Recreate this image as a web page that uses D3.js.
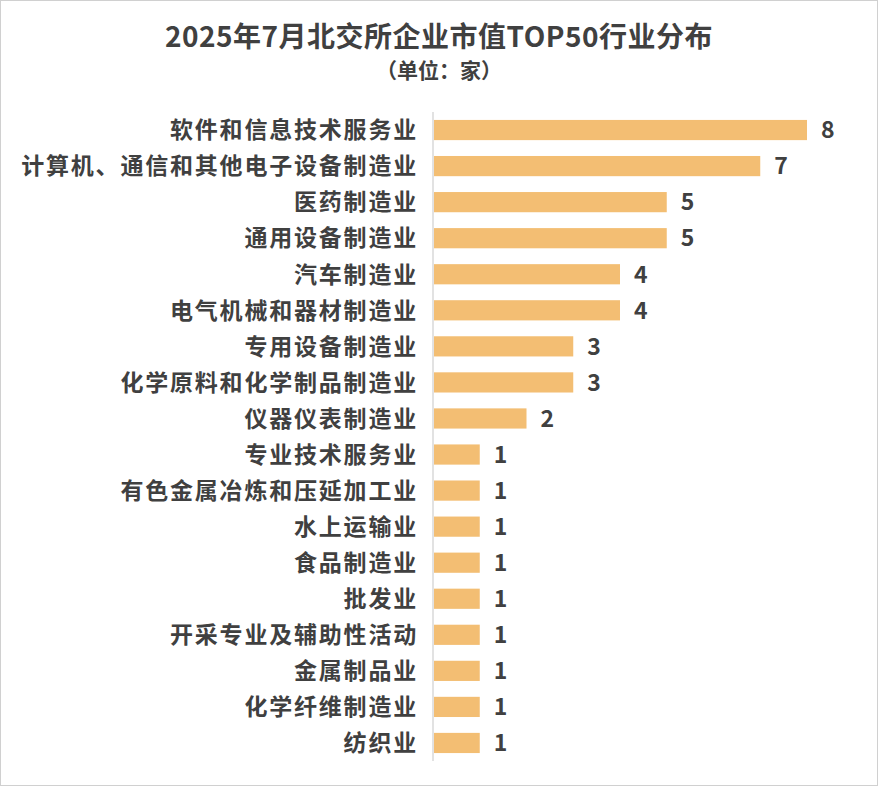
<!DOCTYPE html>
<html><head><meta charset="utf-8">
<script src="https://cdn.jsdelivr.net/npm/d3@7"></script>
<style>
body{margin:0;background:#fff;font-family:"Noto Sans CJK SC","Noto Sans",sans-serif;}
</style></head>
<body><div id="chart"></div>
<script>
const industries = ["软件和信息技术服务业","计算机、通信和其他电子设备制造业","医药制造业","通用设备制造业","汽车制造业","电气机械和器材制造业","专用设备制造业","化学原料和化学制品制造业","仪器仪表制造业","专业技术服务业","有色金属冶炼和压延加工业","水上运输业","食品制造业","批发业","开采专业及辅助性活动","金属制品业","化学纤维制造业","纺织业"];
const counts = [8,7,5,5,4,4,3,3,2,1,1,1,1,1,1,1,1,1];

const W = 878, H = 786;
const svg = d3.select("#chart").append("svg").attr("width", W).attr("height", H);
svg.append("rect").attr("x",0.5).attr("y",0.5).attr("width",W-1).attr("height",H-1)
  .attr("fill","#fff").attr("stroke","#d0d0d0");

const x = d3.scaleLinear().domain([0,8]).range([433,807]);
const y = d3.scaleBand().domain(industries).range([112,761]).paddingInner(0.44).paddingOuter(0.22);

svg.append("text").attr("x",439).attr("y",47).attr("text-anchor","middle")
  .attr("font-size",28).attr("font-weight","bold").attr("fill","#404040").attr("letter-spacing",0.5)
  .text("2025年7月北交所企业市值TOP50行业分布");
svg.append("text").attr("x",439).attr("y",78).attr("text-anchor","middle")
  .attr("font-size",21).attr("font-weight","bold").attr("fill","#404040")
  .text("（单位：家）");

svg.append("line").attr("x1",433).attr("x2",433).attr("y1",112).attr("y2",761)
  .attr("stroke","#d9d9d9").attr("stroke-width",1.5);

svg.selectAll("rect.bar").data(industries).enter().append("rect").attr("class","bar")
  .attr("x", x(0)+1).attr("y", d => y(d))
  .attr("width", (d,i) => x(counts[i]) - x(0) - 1).attr("height", y.bandwidth())
  .attr("fill","#F3BE73");

svg.selectAll("text.cat").data(industries).enter().append("text").attr("class","cat")
  .attr("x",418).attr("y", d => y(d) + y.bandwidth()/2).attr("dy","0.36em")
  .attr("text-anchor","end").attr("font-size",23).attr("letter-spacing",1.8)
  .attr("font-weight","bold").attr("fill","#404040")
  .text(d => d);

svg.selectAll("text.val").data(industries).enter().append("text").attr("class","val")
  .attr("x", (d,i) => x(counts[i]) + 14).attr("y", d => y(d) + y.bandwidth()/2).attr("dy","0.36em")
  .attr("font-size",23).attr("font-weight","bold").attr("fill","#404040")
  .text((d,i) => counts[i]);
</script></body></html>
